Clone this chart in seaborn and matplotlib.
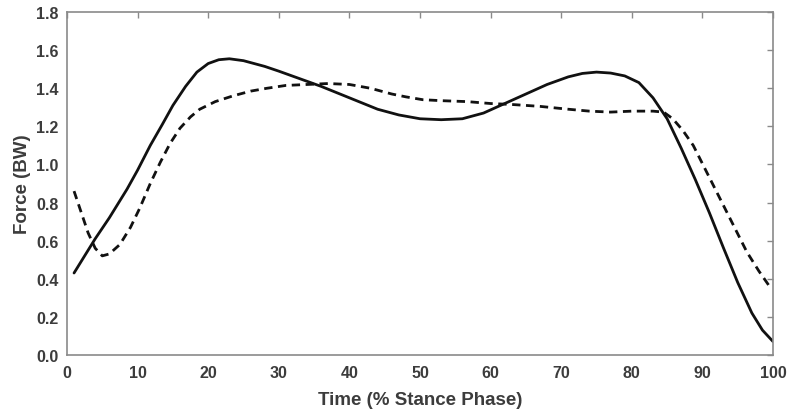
import matplotlib
matplotlib.use("Agg")
import matplotlib.pyplot as plt
import pandas as pd
import seaborn as sns

# ── Data ──────────────────────────────────────────────────────────────────────

solid_x = [1, 2.5, 4, 6, 8.5, 10, 11.8, 13.5, 15, 16.8, 18.4, 20, 21.5, 23, 25,
           28, 30, 33, 36, 40, 44, 47, 50, 53, 56, 59, 62, 65, 68, 71, 73, 75,
           77, 79, 81, 83, 85, 87, 89, 91, 93, 95, 97, 98.5, 100]
solid_y = [0.43, 0.52, 0.61, 0.72, 0.87, 0.97, 1.10, 1.21, 1.31, 1.41, 1.485,
           1.53, 1.55, 1.555, 1.545, 1.515, 1.49, 1.45, 1.41, 1.35, 1.29, 1.26,
           1.24, 1.235, 1.24, 1.27, 1.32, 1.37, 1.42, 1.46, 1.478, 1.485, 1.48,
           1.465, 1.43, 1.35, 1.24, 1.085, 0.92, 0.745, 0.56, 0.38, 0.22, 0.13,
           0.07]

dashed_x = [1, 2, 3, 4, 5, 6, 7.5, 9, 10.3, 11.8, 13.2, 14.6, 16, 17.5, 18.8,
            21, 23.5, 26, 28.3, 31, 34, 37, 40, 43, 46, 48, 50.4, 53, 56.7, 60,
            63, 67, 71, 74, 77, 80, 83, 84.5, 85.8, 87.2, 88.7, 90.6, 92.5,
            94.4, 96.3, 98, 99.5]
dashed_y = [0.86, 0.75, 0.64, 0.56, 0.52, 0.53, 0.58, 0.67, 0.77, 0.90, 1.01,
            1.11, 1.19, 1.25, 1.29, 1.33, 1.36, 1.385, 1.40, 1.415, 1.42, 1.425,
            1.42, 1.40, 1.37, 1.355, 1.34, 1.335, 1.33, 1.32, 1.315, 1.305, 1.29,
            1.28, 1.275, 1.28, 1.28, 1.275, 1.24, 1.18, 1.10, 0.96, 0.82, 0.68,
            0.54, 0.44, 0.36]

x_ticks = list(range(0, 101, 10))
y_ticks = [0.0, 0.2, 0.4, 0.6, 0.8, 1.0, 1.2, 1.4, 1.6, 1.8]

X_LABEL = "Time (% Stance Phase)"
Y_LABEL = "Force (BW)"

TEXT_COLOR = "#3c3c3c"
SPINE_COLOR = "#8a8a8a"
FONT = ["Liberation Sans", "DejaVu Sans"]

# ── Plot ──────────────────────────────────────────────────────────────────────

sns.set_style("white")
plt.rcParams["font.family"] = FONT

solid = pd.DataFrame({"time": solid_x, "force": solid_y})
dashed = pd.DataFrame({"time": dashed_x, "force": dashed_y})

fig = plt.figure(figsize=(7.88, 4.10), dpi=100)
ax = fig.add_axes([0.085, 0.132, 0.896, 0.836])

sns.lineplot(data=solid, x="time", y="force", ax=ax,
             color="#111111", linewidth=2.0)
sns.lineplot(data=dashed, x="time", y="force", ax=ax,
             color="#111111", linewidth=2.0)
ax.lines[-1].set_dashes([3.0, 2.0])

ax.set_xlim(0, 100)
ax.set_ylim(0, 1.8)
ax.set_xticks(x_ticks)
ax.set_yticks(y_ticks)
ax.set_xticklabels([str(t) for t in x_ticks])
ax.set_yticklabels([f"{t:.1f}" for t in y_ticks])

ax.tick_params(direction="in", length=4, width=1, color=SPINE_COLOR,
               top=True, right=True, labelcolor=TEXT_COLOR, labelsize=11.5)
ax.tick_params(axis="x", pad=7)
ax.tick_params(axis="y", pad=6)
for lab in ax.get_xticklabels() + ax.get_yticklabels():
    lab.set_fontweight("bold")

for s in ax.spines.values():
    s.set_color(SPINE_COLOR)
    s.set_linewidth(1.2)

ax.set_xlabel(X_LABEL, fontsize=13.5, fontweight="bold", color=TEXT_COLOR,
              labelpad=8)
ax.set_ylabel(Y_LABEL, fontsize=13.5, fontweight="bold", color=TEXT_COLOR,
              labelpad=4)

fig.savefig("out.png", dpi=100)
